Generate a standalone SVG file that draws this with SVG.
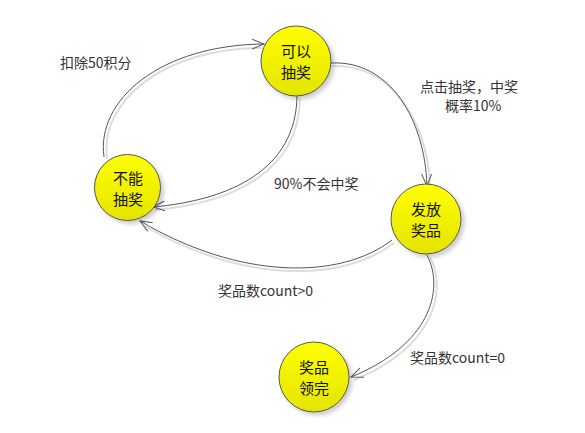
<svg xmlns="http://www.w3.org/2000/svg" width="585" height="433" viewBox="0 0 585 433">
<style>
.node{stroke:#555;stroke-width:1;fill:url(#yg);filter:url(#sh)}
.nt{font-family:"Noto Sans CJK SC","Noto Sans",sans-serif;font-size:15px;fill:#111;text-anchor:middle}
.lbl{font-family:"Noto Sans CJK SC","Noto Sans",sans-serif;font-size:14px;fill:#333}
.edge{fill:none;stroke:#555;stroke-width:1;marker-end:url(#arr)}
.eshadow{fill:none;stroke:#ddd;stroke-width:2}
</style>
<defs>
<linearGradient id="yg" x1="0" y1="0" x2="0" y2="1">
<stop offset="0" stop-color="#ffff00"/>
<stop offset="1" stop-color="#e4e400"/>
</linearGradient>
<filter id="sh" x="-30%" y="-30%" width="170%" height="170%">
<feDropShadow dx="3" dy="3" stdDeviation="2" flood-color="#000" flood-opacity="0.2"/>
</filter>
<marker id="arr" markerWidth="14" markerHeight="12" refX="12" refY="6" orient="auto" markerUnits="userSpaceOnUse">
<path d="M0,1 L12,6 L0,11" fill="none" stroke="#555" stroke-width="1"/>
</marker>
</defs>
<rect width="585" height="433" fill="#fff"/>
<g id="connectors">
<path class="eshadow" d="M107,159 C99,102 163,48 262,48"/>
<path class="eshadow" d="M300,98 C299,172 233,203 155,210"/>
<path class="eshadow" d="M332,66 C391,63 428,122 430,186"/>
<path class="eshadow" d="M394,243 C342,283 242,283 143,225"/>
<path class="eshadow" d="M430,257 C448,292 433,348 354,380"/>
<path class="edge" d="M104,157 C96,100 160,45 264,44"/>
<path class="edge" d="M297,96 C296,170 230,200 153,207"/>
<path class="edge" d="M331,63 C390,60 425,120 427,186"/>
<path class="edge" d="M392,240 C340,280 240,280 140,221"/>
<path class="edge" d="M427,255 C445,290 430,345 351,377"/>
</g>
<g id="label-e1"><text class="lbl" x="60" y="68">扣除50积分</text></g>
<g id="label-e2"><text class="lbl" x="274" y="189">90%不会中奖</text></g>
<g id="label-e3"><text class="lbl" x="420" y="92">点击抽奖，中奖</text><text class="lbl" x="445" y="111">概率10%</text></g>
<g id="label-e4"><text class="lbl" x="218" y="296">奖品数count&gt;0</text></g>
<g id="label-e5"><text class="lbl" x="410" y="363">奖品数count=0</text></g>
<g id="n1"><circle class="node" cx="296" cy="61" r="35"/><text class="nt" x="296" y="57">可以</text><text class="nt" x="296" y="78">抽奖</text></g>
<g id="n2"><circle class="node" cx="127.5" cy="187.5" r="33"/><text class="nt" x="128" y="184">不能</text><text class="nt" x="128" y="205">抽奖</text></g>
<g id="n3"><circle class="node" cx="426" cy="219" r="35"/><text class="nt" x="426" y="215">发放</text><text class="nt" x="426" y="236">奖品</text></g>
<g id="n4"><circle class="node" cx="314" cy="377" r="35"/><text class="nt" x="314" y="373">奖品</text><text class="nt" x="314" y="394">领完</text></g>
</svg>
